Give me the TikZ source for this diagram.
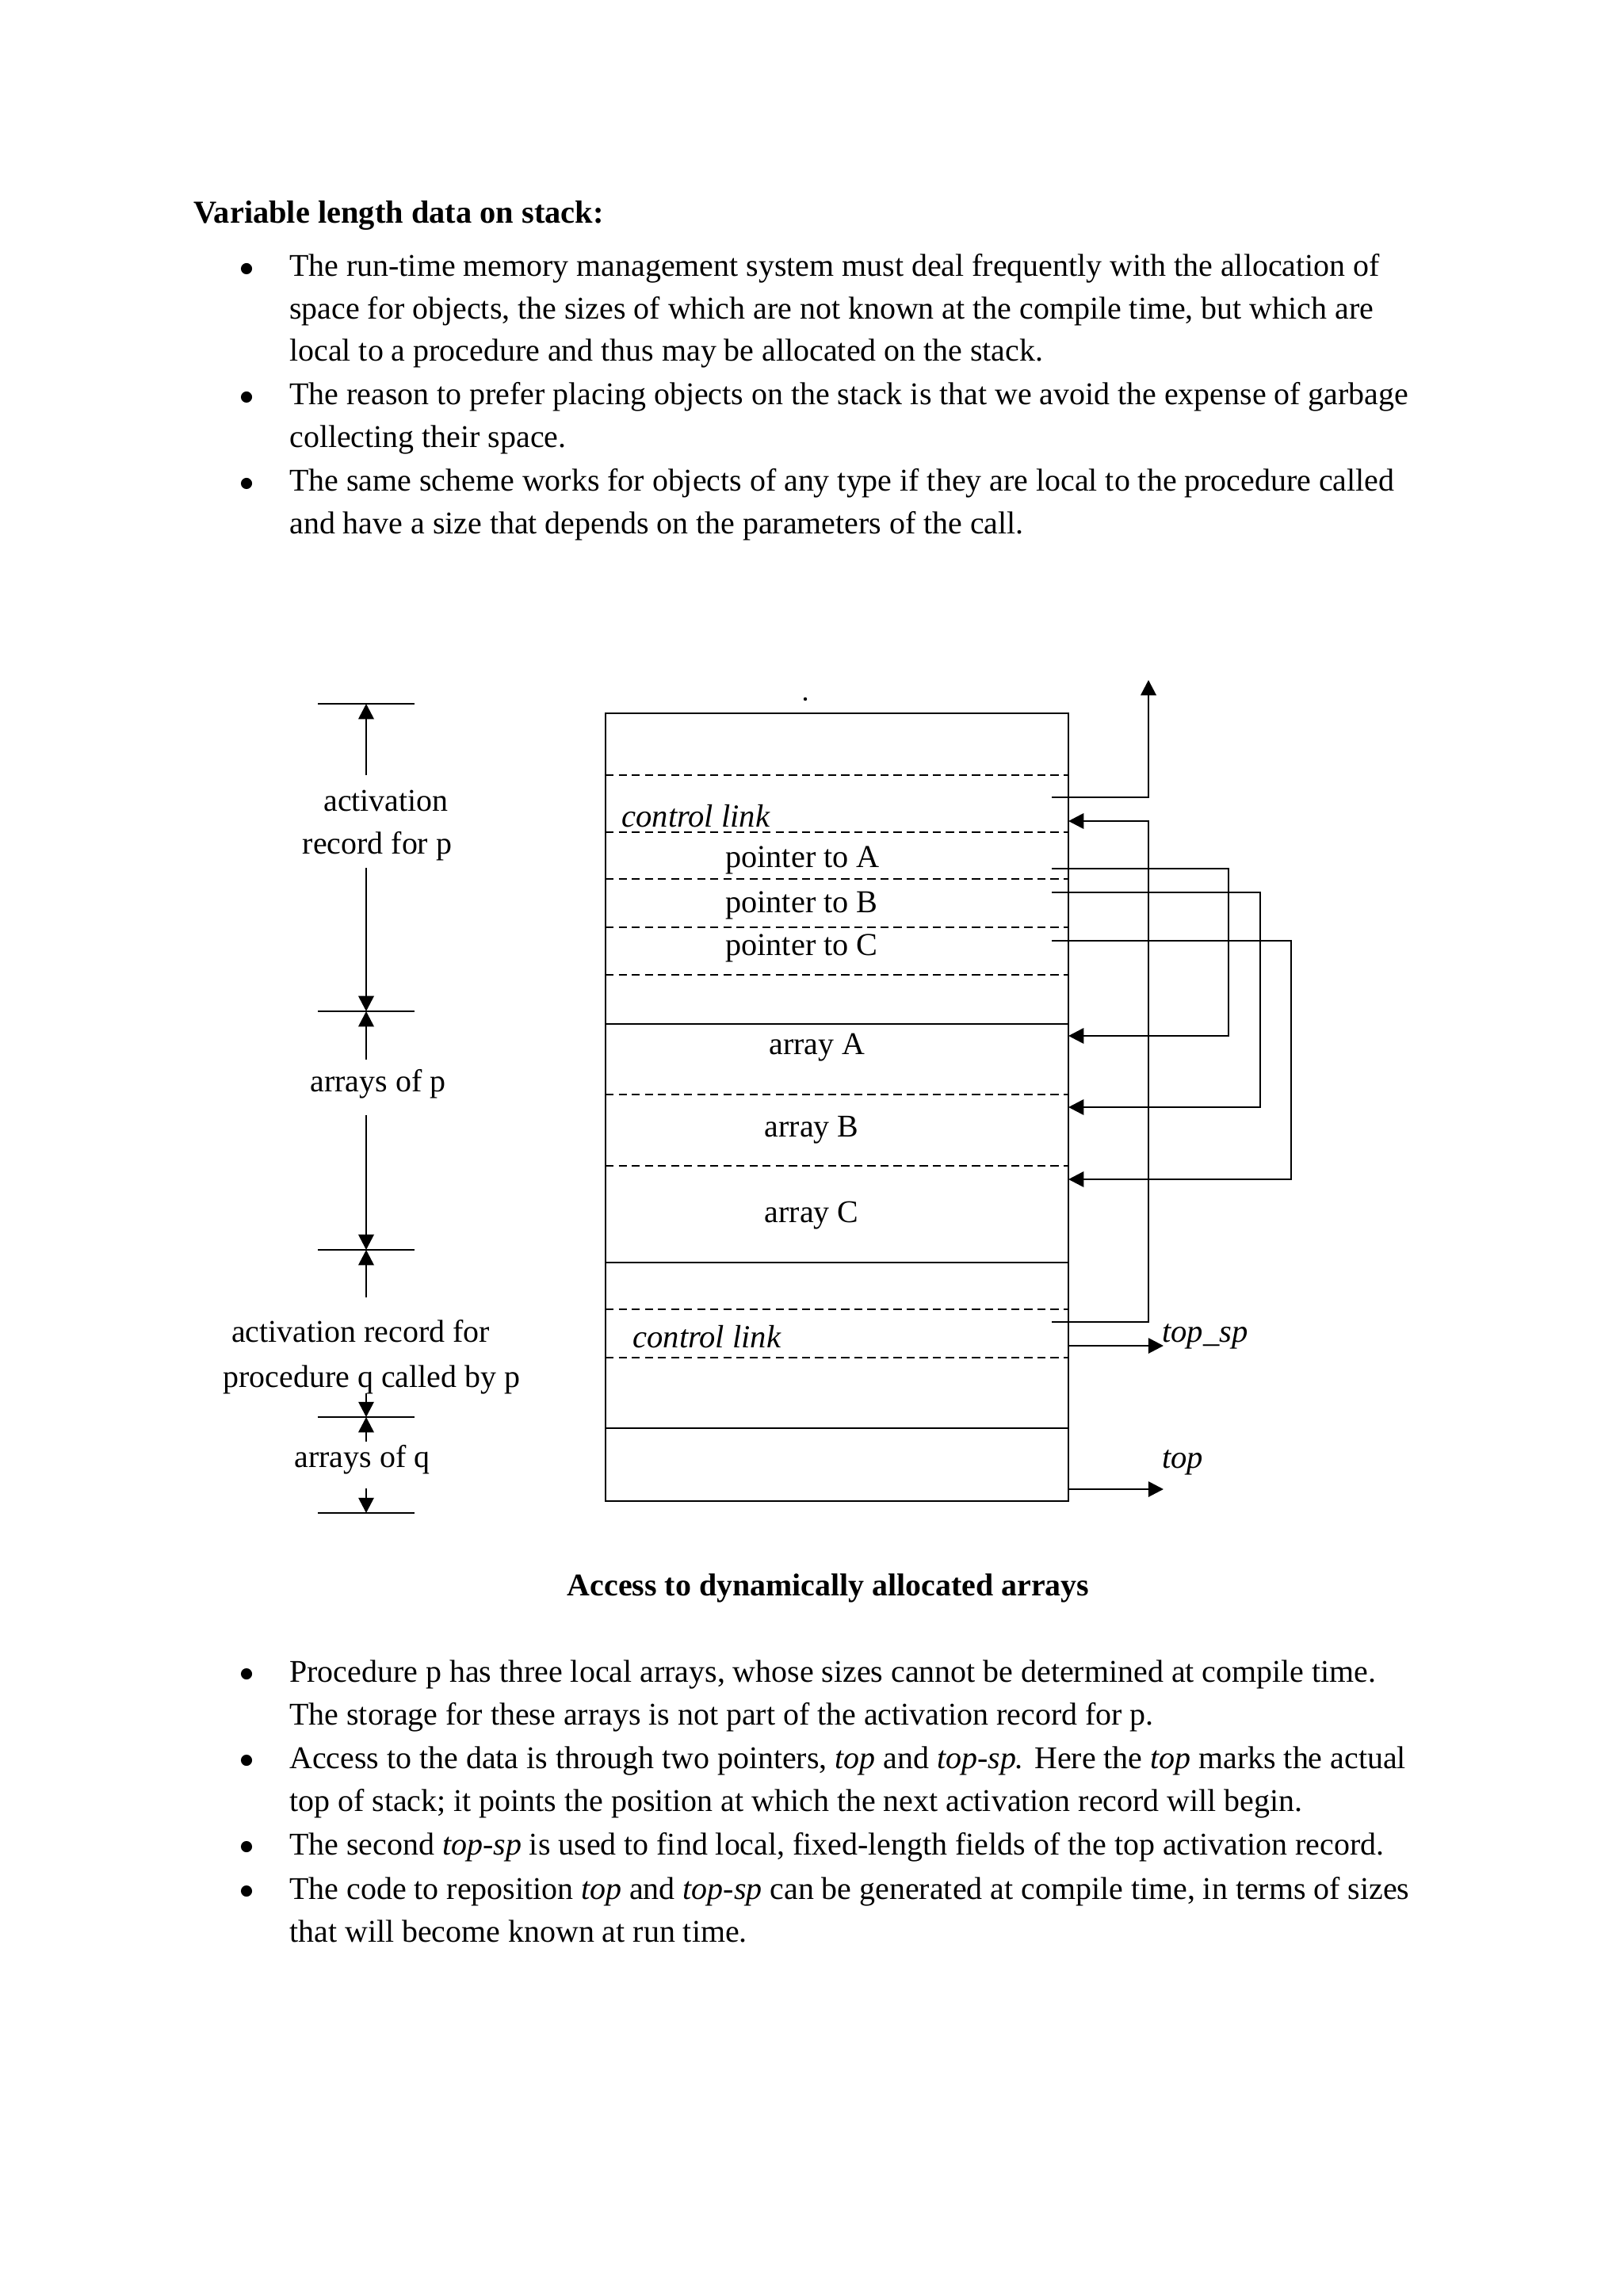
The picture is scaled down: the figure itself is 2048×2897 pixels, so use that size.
\documentclass[tikz,border=0pt]{standalone}
\usepackage{fontspec}
\setmainfont{Liberation Serif}
\usetikzlibrary{arrows.meta}
\begin{document}
\begin{tikzpicture}[x=0.29068pt,y=-0.29068pt,
  line width=0.8pt,
  dsh/.style={line width=0.8pt, dash pattern=on 3pt off 1.8pt},
  arr/.style={-{Triangle[length=5.6pt,width=5.6pt]}},
  body/.style={anchor=base west, inner sep=0pt, font=\fontsize{11.6}{14}\selectfont},
  titlef/.style={anchor=base west, inner sep=0pt, font=\fontsize{11.75}{14}\selectfont\bfseries},
  capf/.style={anchor=base, inner sep=0pt, font=\fontsize{11.6}{14}\selectfont\bfseries},
  lab/.style={anchor=base, inner sep=0pt, font=\fontsize{11.6}{14}\selectfont},
  labw/.style={anchor=base west, inner sep=0pt, font=\fontsize{11.7}{14}\selectfont},
  itl/.style={anchor=base west, inner sep=0pt, font=\fontsize{11.8}{14}\selectfont\itshape},
  bul/.style={circle, fill=black, inner sep=0pt, minimum size=4.1pt}
]
\useasboundingbox (0,0) rectangle (2048,2897);
\fill[white] (0,0) rectangle (2048,2897);

% ---------- top text ----------
\node[titlef] (title) at (243,282) {Variable length data on stack:};
\node[bul] (b1) at (311,339) {};
\node[bul] (b2) at (311,501) {};
\node[bul] (b3) at (311,610) {};
\node[body] (t1) at (364,349) {The run-time memory management system must deal frequently with the allocation of};
\node[body] (t2) at (364,403) {space for objects, the sizes of which are not known at the compile time, but which are};
\node[body] (t3) at (364,456) {local to a procedure and thus may be allocated on the stack.};
\node[body] (t4) at (364,511) {The reason to prefer placing objects on the stack is that we avoid the expense of garbage};
\node[body] (t5) at (364,565) {collecting their space.};
\node[body] (t6) at (364,620) {The same scheme works for objects of any type if they are local to the procedure called};
\node[body] (t7) at (364,674) {and have a size that depends on the parameters of the call.};

% ---------- stack box ----------
\draw (764,900) rectangle (1348,1894);
\fill (1016,882) circle (2.2);
\foreach \yy in {978,1050,1109,1170,1230,1381,1471,1652,1713}
  \draw[dsh] (764,\yy) -- (1348,\yy);
\foreach \yy in {1292,1593,1802}
  \draw (764,\yy) -- (1348,\yy);

\node[itl] (cl1) at (783,1043) {control link};
\node[labw] (pa) at (914,1094) {pointer to A};
\node[labw] (pb) at (914,1151) {pointer to B};
\node[labw] (pc) at (914,1205) {pointer to C};
\node[lab] (aa) at (1031,1330) {array A};
\node[lab] (ab) at (1024,1434) {array B};
\node[lab] (ac) at (1024,1542) {array C};
\node[itl] (cl2) at (797,1700) {control link};
\node[itl] (tsp) at (1465,1693) {top\_sp};
\node[itl] (tp) at (1465,1852) {top};

% connector anchor points
\coordinate (upS) at (1327,1006);
\coordinate (upE) at (1449,858);
\coordinate (clS) at (1327,1668);
\coordinate (clE) at (1348,1036);
\coordinate (paS) at (1327,1096);
\coordinate (paE) at (1348,1307);
\coordinate (pbS) at (1327,1126);
\coordinate (pbE) at (1348,1397);
\coordinate (pcS) at (1327,1187);
\coordinate (pcE) at (1348,1488);
\coordinate (tspS) at (1348,1698);
\coordinate (tspE) at (1468,1698);
\coordinate (tpS) at (1348,1879);
\coordinate (tpE) at (1468,1879);

\draw[arr] (upS) -| (upE);
\draw[arr] (clS) -- (1449,1668) |- (clE);
\draw[arr] (paS) -- (1550,1096) |- (paE);
\draw[arr] (pbS) -- (1590,1126) |- (pbE);
\draw[arr] (pcS) -- (1629,1187) |- (pcE);
\draw[arr] (tspS) -- (tspE);
\draw[arr] (tpS) -- (tpE);

% ---------- left dimension marks ----------
\coordinate (k1) at (462,888);
\coordinate (k2) at (462,1276);
\coordinate (k3) at (462,1577);
\coordinate (k4) at (462,1788);
\coordinate (k5) at (462,1909);
\foreach \yy in {888,1276,1577,1788,1909}
  \draw (401,\yy) -- (523,\yy);
\draw[arr] (462,978) -- (k1);
\draw[arr] (462,1095) -- (k2);
\draw[arr] (462,1337) -- (k2);
\draw[arr] (462,1407) -- (k3);
\draw[arr] (462,1637) -- (k3);
\draw[arr] (462,1758) -- (k4);
\draw[arr] (462,1819) -- (k4);
\draw[arr] (462,1878) -- (k5);

\node[lab] (l1) at (487,1023) {activation};
\node[lab] (l2) at (476,1077) {record for p};
\node[lab] (l3) at (477,1377) {arrays of p};
\node[lab] (l4) at (455,1693) {activation record for};
\node[lab] (l5) at (469,1750) {procedure q called by p};
\node[lab] (l6) at (457,1851) {arrays of q};

% ---------- caption ----------
\node[capf] (cap) at (1045,2013) {Access to dynamically allocated arrays};

% ---------- bottom text ----------
\node[bul] (c1) at (311,2112) {};
\node[bul] (c2) at (311,2221) {};
\node[bul] (c3) at (311,2330) {};
\node[bul] (c4) at (311,2386) {};
\node[body] (u1) at (364,2122) {Procedure p has three local arrays, whose sizes cannot be determined at compile time.};
\node[body] (u2) at (364,2176) {The storage for these arrays is not part of the activation record for p.};
\node[body] (u3) at (364,2231) {Access to the data is through two pointers, \textit{top} and \textit{top-sp.} Here the \textit{top} marks the actual};
\node[body] (u4) at (364,2285) {top of stack; it points the position at which the next activation record will begin.};
\node[body] (u5) at (364,2340) {The second \textit{top-sp} is used to find local, fixed-length fields of the top activation record.};
\node[body] (u6) at (364,2396) {The code to reposition \textit{top} and \textit{top-sp} can be generated at compile time, in terms of sizes};
\node[body] (u7) at (364,2450) {that will become known at run time.};
\end{tikzpicture}
\end{document}
